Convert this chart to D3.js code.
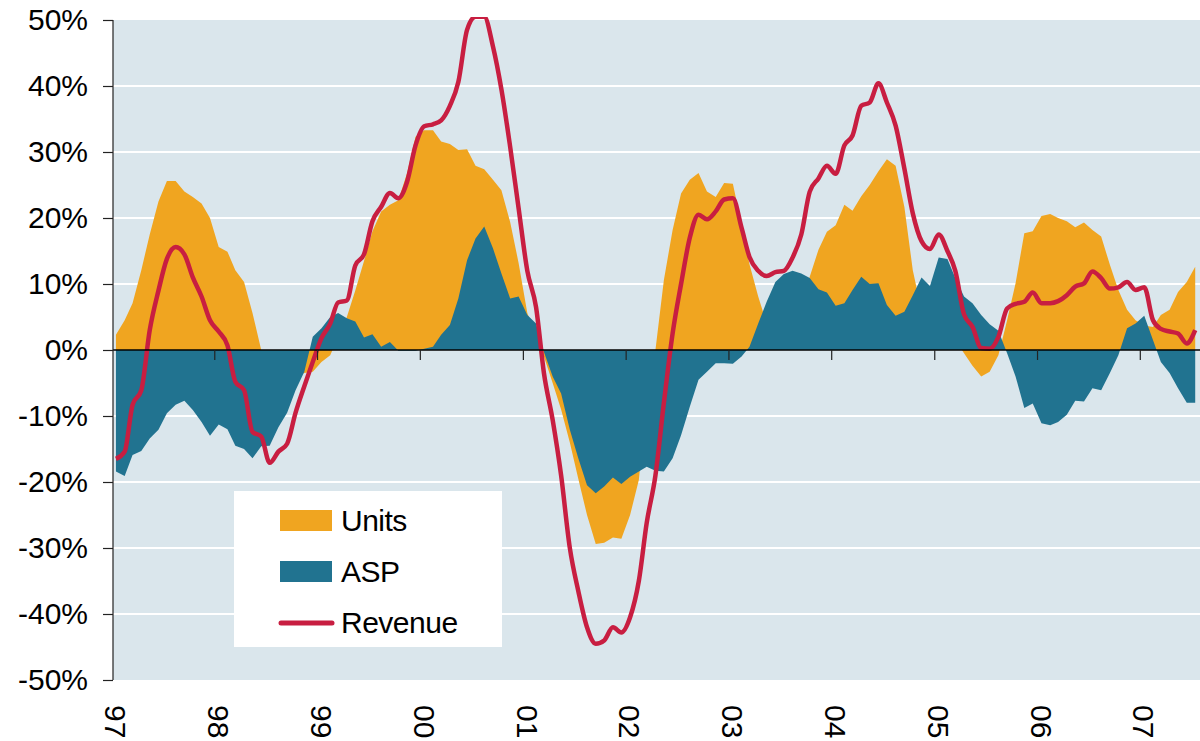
<html>
  <head>
    <meta charset="UTF-8">
    <style>
      body { margin: 0; background: #fff; }
      text { font-family: "Liberation Sans", Arial, sans-serif; fill: #000; }
    </style>
  </head>
  <body>
    <script src="https://cdn.jsdelivr.net/npm/d3@7"></script>
    <script>

// monthly year-on-year growth (%), Jan 1997 .. Jul 2007
var units = [
   2.3,  4.5,  7.1, 12.1, 17.5, 22.5, 25.6, 25.6, 24.0, 23.2, 22.2, 20.0,
  15.6, 14.9, 12.1, 10.3,  5.6,  0.0, -2.5, -3.5, -4.5, -4.0, -3.5, -3.3,
  -1.8, -0.8,  2.0,  5.0,  9.0, 13.5, 18.0, 21.0, 22.0, 22.7, 26.8, 32.3,
  33.3, 33.3, 31.6, 31.2, 30.3, 30.4, 27.9, 27.4, 25.8, 24.2, 19.4, 13.2,
   5.6,  2.0, -1.0, -5.0, -9.0,-14.0,-19.5,-25.0,-29.4,-29.2,-28.4,-28.6,
 -25.0,-19.7, -8.0,  0.0, 10.6, 18.2, 23.7, 25.8, 26.8, 24.0, 23.2, 25.3,
  25.2, 19.0, 13.0,  8.1,  4.0,  1.0,  0.5,  2.0,  6.0, 11.1, 15.2, 17.9,
  18.9, 22.0, 21.1, 23.3, 25.0, 27.1, 28.9, 27.9, 21.7, 12.1,  6.0,  4.6,
   3.7,  1.8,  1.5, -0.5, -2.4, -4.0, -3.3, -0.8,  4.5, 10.1, 17.7, 18.0,
  20.3, 20.6, 20.0, 19.5, 18.6, 19.3, 18.2, 17.2, 12.9,  9.1,  6.1,  4.5,
   3.7,  3.5,  5.3,  6.1,  8.8, 10.3, 12.6
];

var asp = [
 -18.4,-19.1,-15.9,-15.3,-13.4,-12.1, -9.6, -8.3, -7.7, -9.1,-10.9,-13.0,
 -11.3,-12.0,-14.5,-15.0,-16.4,-14.6,-14.5,-11.7, -9.5, -6.1, -3.3,  2.0,
   3.3,  5.0,  5.6,  4.8,  4.3,  1.9,  2.4,  0.5,  1.2, -0.1, -0.1, -0.1,
   0.2,  0.5,  2.3,  3.8,  7.8, 13.6, 16.9, 18.7, 15.4, 11.6,  7.8,  8.1,
   5.3,  4.0, -0.3, -4.0, -6.6,-12.1,-16.4,-20.5,-21.7,-20.7,-19.3,-20.3,
 -19.2,-18.4,-17.7,-18.3,-18.4,-16.4,-12.9, -8.6, -4.5, -3.3, -2.0, -2.0,
  -2.1, -1.0,  0.5,  4.0,  7.3, 10.3, 11.5, 12.0, 11.6, 10.9,  9.2,  8.7,
   6.7,  7.1,  9.1, 11.1, 10.0, 10.1,  6.8,  5.2,  5.8,  8.3, 11.0,  9.7,
  14.0, 13.8, 10.9,  8.1,  7.1,  5.3,  3.9,  2.9, -0.5, -4.0, -8.8, -8.1,
 -11.1,-11.4,-10.9, -9.8, -7.7, -7.8, -5.8, -6.1, -3.5, -0.8,  3.3,  4.0,
   5.2,  1.5, -1.8, -3.5, -5.8, -8.0, -8.0
];

var revenue = [
 -16.5,-15.4, -8.3, -6.1,  3.0,  9.0, 13.8, 15.6, 14.5, 11.0,  8.1,  4.5,
   2.8,  0.7, -4.8, -6.1,-12.4,-13.1,-17.1,-15.4,-14.2, -9.5, -5.5, -1.8,
   1.8,  4.0,  7.2,  7.5, 12.8, 14.5, 19.5, 21.7, 23.8, 23.0, 25.5, 31.0,
  33.9, 34.2, 34.8, 37.0, 40.6, 48.5, 50.5, 50.5, 46.0, 39.5, 30.8, 21.5,
  12.0,  6.5, -3.5,-10.6,-19.0,-30.0,-36.5,-42.0,-44.5,-44.0,-42.0,-42.8,
 -40.5,-35.0,-26.2,-19.0, -8.0,  2.5, 10.0, 17.0, 20.5, 19.8, 21.0, 22.8,
  23.0, 18.5, 14.1, 12.0, 11.2, 11.8, 12.0, 14.0, 17.5, 24.0, 26.0, 27.9,
  26.7, 31.0, 32.5, 37.0, 37.5, 40.4, 37.5, 34.0, 27.5, 20.7, 16.5, 15.3,
  17.5, 15.0, 12.0,  5.4,  3.5,  0.3,  0.2,  2.0,  6.3,  7.0,  7.3,  8.7,
   7.1,  7.1,  7.4,  8.3,  9.6, 10.1, 11.9, 10.9,  9.3,  9.5, 10.3,  9.1,
   9.5,  4.5,  3.2,  2.8,  2.5,  1.0,  3.0
];

var yearLabels = ["97", "98", "99", "00", "01", "02", "03", "04", "05", "06", "07"];
var yTicks = [50, 40, 30, 20, 10, 0, -10, -20, -30, -40, -50];

var series = [
  { name: "Units", values: units, color: "#f0a520" },
  { name: "ASP", values: asp, color: "#217390" }
];
var lineColor = "#c81e41";

var width = 1200, height = 741;
var plotLeft = 113, plotRight = 1200, plotTop = 20, plotBottom = 680;

var svg = d3.select("body").append("svg")
    .attr("width", width).attr("height", height);

var x = d3.scaleTime()
    .domain([new Date(1997, 0, 1), new Date(2007, 7, 1)])
    .range([112, 1200]);
var y = d3.scaleLinear().domain([-50, 50]).range([plotBottom, plotTop]);

function monthDate(i) { return new Date(1997, i, 15); }

// plot background
svg.append("rect")
    .attr("x", plotLeft).attr("y", plotTop)
    .attr("width", plotRight - plotLeft).attr("height", plotBottom - plotTop)
    .attr("fill", "#dae6ec");

// grid
svg.append("g").selectAll("line")
    .data(yTicks.filter(function(t) { return t != 0 && t != 50 && t != -50; }))
    .enter().append("line")
    .attr("x1", plotLeft).attr("x2", plotRight)
    .attr("y1", function(d) { return y(d); })
    .attr("y2", function(d) { return y(d); })
    .attr("stroke", "#fff").attr("stroke-width", 2);

svg.append("defs").append("clipPath").attr("id", "plot")
  .append("rect")
    .attr("x", plotLeft).attr("y", plotTop - 3)
    .attr("width", plotRight - plotLeft).attr("height", plotBottom - plotTop + 3);

var g = svg.append("g").attr("clip-path", "url(#plot)");

var area = d3.area()
    .x(function(d, i) { return x(monthDate(i)); })
    .y0(y(0))
    .y1(function(d) { return y(d); });

g.selectAll(".area")
  .data(series)
  .enter().append("path")
    .attr("class", "area")
    .attr("d", function(s) { return area(s.values); })
    .attr("fill", function(s) { return s.color; });

// zero line
svg.append("line")
    .attr("x1", plotLeft).attr("x2", plotRight)
    .attr("y1", y(0)).attr("y2", y(0))
    .attr("stroke", "#000").attr("stroke-width", 1.5);

// x ticks on the zero line
var years = yearLabels.map(function(d, i) { return new Date(1997 + i, 0, 1); });
svg.append("g").selectAll("line")
    .data(years.slice(1))
    .enter().append("line")
    .attr("x1", function(d) { return x(d); })
    .attr("x2", function(d) { return x(d); })
    .attr("y1", y(0)).attr("y2", y(0) + 10)
    .attr("stroke", "#222").attr("stroke-width", 1.2);

var line = d3.line()
    .curve(d3.curveMonotoneX)
    .x(function(d, i) { return x(monthDate(i)); })
    .y(function(d) { return y(d); });

g.append("path")
    .attr("d", line(revenue))
    .attr("fill", "none")
    .attr("stroke", lineColor)
    .attr("stroke-width", 4.5)
    .attr("stroke-linejoin", "round");

// y axis
var yAxis = svg.append("g")
    .attr("transform", "translate(" + plotLeft + ",0)")
    .call(d3.axisLeft(y).tickValues(yTicks)
          .tickFormat(function(d) { return d + "%"; })
          .tickSize(10).tickPadding(15));
yAxis.select(".domain").attr("stroke", "#222").attr("stroke-width", 1.2)
    .attr("d", "M0," + plotTop + "V" + plotBottom);
yAxis.selectAll(".tick line").attr("stroke", "#222").attr("stroke-width", 1.2);
yAxis.selectAll("text")
    .style("font-family", '"Liberation Sans", Arial, sans-serif')
    .style("font-size", "30px")
    .attr("fill", "#000");

// x labels, rotated
svg.append("g").selectAll("text")
    .data(yearLabels)
    .enter().append("text")
    .attr("transform", function(d, i) {
        return "translate(" + (x(years[i]) + 4) + ",705) rotate(90)";
    })
    .attr("dy", "0.36em")
    .style("font-size", "30px")
    .text(function(d) { return d; });

// legend
var legend = svg.append("g");
legend.append("rect")
    .attr("x", 234).attr("y", 491)
    .attr("width", 268).attr("height", 156)
    .attr("fill", "#fff");

var items = series.concat([{ name: "Revenue", line: true, color: lineColor }]);
var item = legend.selectAll(".item")
    .data(items)
    .enter().append("g")
    .attr("class", "item")
    .attr("transform", function(d, i) { return "translate(280," + (520 + i * 51) + ")"; });

item.each(function(d) {
    var sel = d3.select(this);
    if (d.line) {
        sel.append("line")
            .attr("x1", 1).attr("x2", 52).attr("y1", 1).attr("y2", 1)
            .attr("stroke", d.color).attr("stroke-width", 5)
            .attr("stroke-linecap", "round");
    } else {
        sel.append("rect")
            .attr("x", 0).attr("y", -10)
            .attr("width", 52).attr("height", 21)
            .attr("fill", d.color);
    }
});

item.append("text")
    .attr("x", 61).attr("y", 0)
    .attr("dy", "0.36em")
    .style("font-size", "30px")
    .style("letter-spacing", "-0.5px")
    .text(function(d) { return d.name; });

    </script>
  </body>
</html>
